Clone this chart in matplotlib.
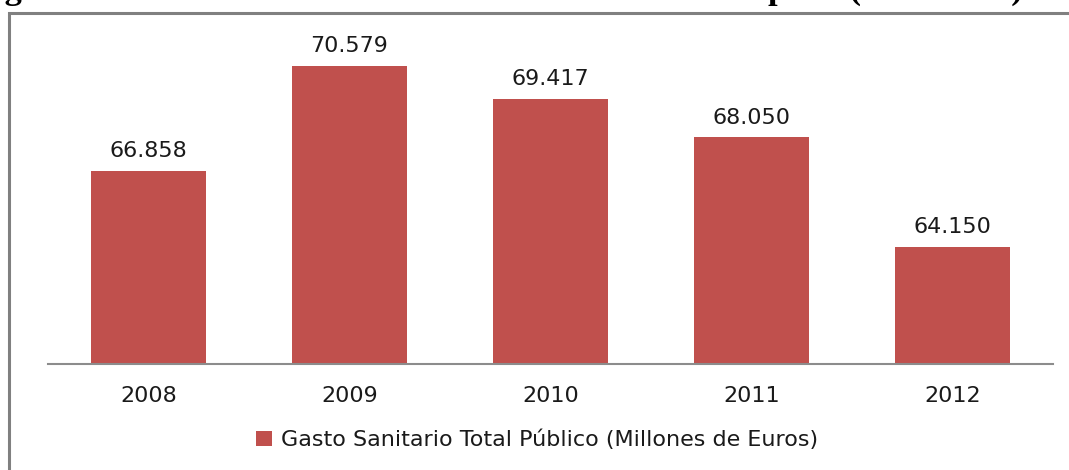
import matplotlib
matplotlib.use("Agg")
import matplotlib.pyplot as plt
from matplotlib.patches import Rectangle, Patch

# Gasto sanitario público (millones de euros)
years = ["2008", "2009", "2010", "2011", "2012"]
gasto = [66858, 70579, 69417, 68050, 64150]
series_label = "Gasto Sanitario Total Público (Millones de Euros)"
title = "Figura 1: Evolución del Gasto Sanitario Público en España (2008-2012)"

W, H = 1069, 470
fig = plt.figure(figsize=(W / 100, H / 100), dpi=100)
fig.patch.set_facecolor("white")

font = "DejaVu Sans"
fs = 16
txt_color = "#1a1a1a"
bar_color = "#C0504D"

# frame around the chart
frame = Rectangle((9 / W, -0.05), 1.2, (1 - 13 / H) + 0.05,
                  transform=fig.transFigure, fill=False,
                  edgecolor="#808080", linewidth=2.2, zorder=0)
fig.patches.append(frame)

# title sitting above the frame (only its lower edge falls inside the page)
fig.text(1023 / W, 1 + 1 / H, title, family="Liberation Serif", weight="bold",
         fontsize=24.8, ha="right", va="baseline", color="black")

ax = fig.add_axes([48 / W, 1 - 364 / H, (1053 - 48) / W, (364 - 26) / H])
x = list(range(len(years)))
bars = ax.bar(x, gasto, width=0.57, color=bar_color, zorder=2)

ax.set_xlim(-0.5, len(years) - 0.5)
ax.set_ylim(60000, 72000)
ax.set_xticks(x)
ax.set_xticklabels(years, family=font, fontsize=fs, color=txt_color)
ax.tick_params(axis="x", length=0, pad=16)
ax.set_yticks([])

for side in ("left", "right", "top"):
    ax.spines[side].set_visible(False)
ax.spines["bottom"].set_color("#8c8c8c")
ax.spines["bottom"].set_linewidth(1.5)

for rect, v in zip(bars, gasto):
    label = f"{v:,}".replace(",", ".")
    ax.annotate(label, (rect.get_x() + rect.get_width() / 2, v),
                xytext=(0, 7), textcoords="offset points",
                ha="center", va="bottom", family=font, fontsize=fs,
                color=txt_color)

handle = Patch(facecolor=bar_color, edgecolor="none")
fig.legend([handle], [series_label], loc="center",
           bbox_to_anchor=(537 / W, 1 - 440 / H), frameon=False,
           prop={"family": font, "size": fs}, handlelength=0.7,
           handleheight=0.7, handletextpad=0.4, labelcolor=txt_color)

fig.savefig("out.png", dpi=100, facecolor="white")
